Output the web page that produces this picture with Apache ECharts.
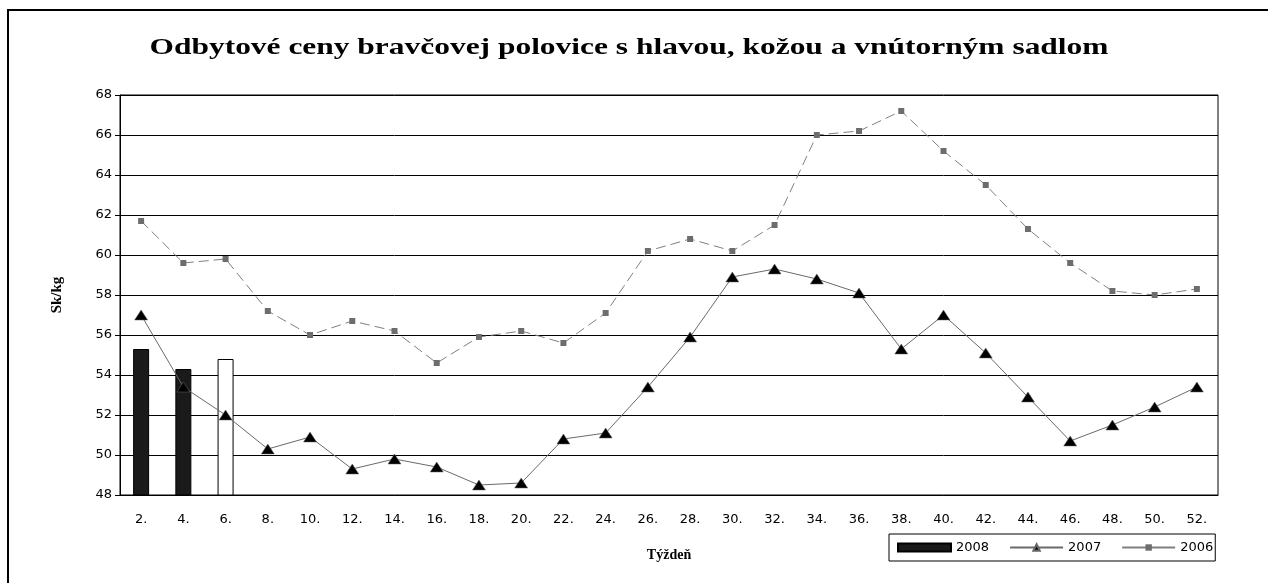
<!DOCTYPE html>
<html>
<head>
<meta charset="utf-8">
<title>Odbytové ceny</title>
<script src="https://cdn.jsdelivr.net/npm/echarts@6/dist/echarts.min.js"></script>
<style>
html,body{margin:0;padding:0;background:#fff;}
#x1{width:1268px;height:583px;}
</style>
</head>
<body>
<div id="x1"></div>
<script>
var weeks = ['2.','4.','6.','8.','10.','12.','14.','16.','18.','20.','22.','24.','26.',
	'28.','30.','32.','34.','36.','38.','40.','42.','44.','46.','48.','50.','52.'];
var y2008 = [55.3, 54.3, 54.8];
var y2007 = [57.0, 53.4, 52.0, 50.3, 50.9, 49.3, 49.8, 49.4, 48.5, 48.6, 50.8, 51.1, 53.4,
	55.9, 58.9, 59.3, 58.8, 58.1, 55.3, 57.0, 55.1, 52.9, 50.7, 51.5, 52.4, 53.4];
var y2006 = [61.7, 59.6, 59.8, 57.2, 56.0, 56.7, 56.2, 54.6, 55.9, 56.2, 55.6, 57.1, 60.2,
	60.8, 60.2, 61.5, 66.0, 66.2, 67.2, 65.2, 63.5, 61.3, 59.6, 58.2, 58.0, 58.3];
var yTicks = {min: 48, max: 68, step: 2};
var titleText = 'Odbytové ceny bravčovej polovice s hlavou, kožou a vnútorným sadlom';

getChar();

function getChar()
{
	var myChart = echarts.init(document.getElementById('x1'));
	var sans = 'DejaVu Sans';
	var serif = 'Liberation Serif';
	var bars = [];
	for (var i = 0; i < y2008.length; i++) {
		// posledny tyzden je bez vyplne
		if (i == y2008.length - 1)
			bars.push({value: y2008[i], itemStyle: {color: '#fff', borderColor: '#000', borderWidth: 1}});
		else
			bars.push(y2008[i]);
	}
	var option1 = {
		animation: false,
		backgroundColor: '#fff',
		graphic: [
			{
				type: 'rect',
				shape: {x: 8, y: 10, width: 1400, height: 700},
				style: {fill: 'none', stroke: '#000', lineWidth: 2}
			},
			{
				// nadpis je v originali roztiahnuty do sirky
				type: 'text',
				x: 629,
				y: 48,
				scaleX: 1.31,
				style: {
					text: titleText,
					font: 'bold 24px "Liberation Serif"',
					fill: '#000',
					align: 'center',
					verticalAlign: 'middle'
				}
			}
		],
		legend: {
			left: 889,
			top: 534,
			padding: [7, 2, 7, 8],
			itemGap: 20,
			itemWidth: 53,
			itemHeight: 8,
			borderColor: '#000',
			borderWidth: 1,
			textStyle: {fontFamily: sans, fontSize: 13, color: '#000'},
			data: [
				{name: '2008', icon: 'rect'},
				{name: '2007'},
				{name: '2006', lineStyle: {type: 'solid'}}
			]
		},
		grid: {
			left: 120, top: 95, right: 50, bottom: 88,
			show: true, borderColor: '#000', borderWidth: 1
		},
		xAxis: {
			type: 'category',
			data: weeks,
			boundaryGap: true,
			name: 'Týždeň',
			nameLocation: 'middle',
			nameGap: 53,
			nameTextStyle: {fontFamily: serif, fontSize: 14, fontWeight: 'bold', color: '#000'},
			axisLine: {lineStyle: {color: '#000'}},
			axisTick: {interval: 1, length: 5, lineStyle: {color: '#000'}},
			axisLabel: {interval: 0, margin: 18, fontFamily: sans, fontSize: 13, color: '#000'}
		},
		yAxis: {
			type: 'value',
			min: yTicks.min,
			max: yTicks.max,
			interval: yTicks.step,
			name: 'Sk/kg',
			nameLocation: 'middle',
			nameGap: 55,
			nameTextStyle: {fontFamily: serif, fontSize: 15, fontWeight: 'bold', color: '#000'},
			axisLine: {show: true, lineStyle: {color: '#000'}},
			axisTick: {show: true, length: 5, lineStyle: {color: '#000'}},
			axisLabel: {margin: 8, fontFamily: sans, fontSize: 13, color: '#000'},
			splitLine: {lineStyle: {color: '#000', width: 1}}
		},
		series: [
			{
				name: '2008',
				type: 'bar',
				barWidth: 16,
				data: bars,
				itemStyle: {color: '#1a1a1a', borderColor: '#000', borderWidth: 1}
			},
			{
				name: '2007',
				type: 'line',
				data: y2007,
				symbol: 'triangle',
				symbolSize: [13, 10],
				z: 4,
				lineStyle: {color: '#6a6a6a', width: 1},
				itemStyle: {color: '#000', borderColor: '#666', borderWidth: 0.5}
			},
			{
				name: '2006',
				type: 'line',
				data: y2006,
				symbol: 'rect',
				symbolSize: 6,
				z: 3,
				lineStyle: {color: '#808080', width: 1, type: [10, 5]},
				itemStyle: {color: '#6d6d6d'}
			}
		]
	};
	myChart.setOption(option1);
}
</script>
</body>
</html>
